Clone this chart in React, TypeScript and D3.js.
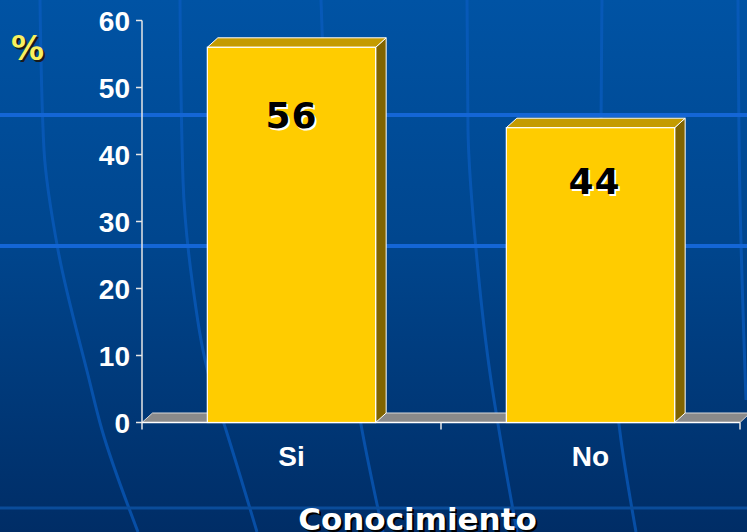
import React from "react";
import * as d3 from "d3";

const categories = ["Si", "No"];
const values = [56, 44];
const yTicks = [0, 10, 20, 30, 40, 50, 60];
const yAxisTitle = "%";
const xAxisTitle = "Conocimiento";

// decorative globe meridians (background only)
const meridians: [number, number][][] = [
  [[40, 0], [44, 150], [58, 250], [88, 375], [102, 430], [138, 532]],
  [[180, 0], [183, 180], [192, 280], [210, 380], [226, 430], [257, 532]],
  [[321, 0], [330, 180], [346, 330], [362, 430], [383, 532]],
  [[467, 0], [468, 130], [477, 260], [491, 380], [499, 430], [517, 532]],
  [[602, 0], [601, 130], [607, 280], [615, 390], [621, 440], [636, 532]],
  [[738, 0], [740, 200], [746, 400]],
];
const parallels = [115, 246, 508];

const W = 747;
const H = 532;

export default function App() {
  const y = d3.scaleLinear().domain([0, 60]).range([422.5, 20.5]);
  const x = d3.scaleBand<string>().domain(categories).range([142, 740]).paddingInner(0).paddingOuter(0);
  const barW = x.bandwidth() * 0.563;
  const dx = 10.5;
  const dy = -9.5;
  const line = d3.line<[number, number]>().curve(d3.curveMonotoneY);
  const x0 = 142;
  const y0 = y(0);
  const font = "'Liberation Sans', Arial, sans-serif";
  const font2 = "'DejaVu Sans', Verdana, sans-serif";

  return (
    <svg width={W} height={H} style={{ position: "absolute", left: 0, top: 0 }}>
      <defs>
        <linearGradient id="bg" x1="0" y1="0" x2="0" y2="1">
          <stop offset="0" stopColor="#0053a4" />
          <stop offset="0.45" stopColor="#00468e" />
          <stop offset="1" stopColor="#002d66" />
        </linearGradient>
      </defs>
      <rect x={0} y={0} width={W} height={H} fill="url(#bg)" />
      {meridians.map((m, i) => (
        <path key={i} d={line(m) || ""} fill="none" stroke="#0a5cc0" strokeOpacity={0.7} strokeWidth={3} />
      ))}
      {parallels.map((p, i) => (
        <line key={i} x1={0} x2={W} y1={p} y2={p} stroke={i === 2 ? "#0a4c9a" : "#1466d6"} strokeWidth={i === 2 ? 3 : 4} />
      ))}

      {/* floor */}
      <polygon
        points={`${x0},${y0} ${x0 + dx},${y0 + dy} ${750},${y0 + dy} ${740},${y0}`}
        fill="#8a8a8a"
        stroke="#d8d8d8"
        strokeWidth={1}
      />
      {/* y axis */}
      <line x1={x0} x2={x0} y1={y(60)} y2={y0} stroke="#e6e6e6" strokeWidth={1.5} />
      {yTicks.map((t) => (
        <g key={t}>
          <line x1={x0 - 6} x2={x0} y1={y(t)} y2={y(t)} stroke="#e6e6e6" strokeWidth={1.5} />
          <text x={130} y={y(t) + 10} textAnchor="end" fill="#ffffff" fontFamily={font} fontWeight="bold" fontSize={28}>
            {t}
          </text>
        </g>
      ))}
      {/* x axis */}
      <line x1={x0} x2={740} y1={y0} y2={y0} stroke="#ffffff" strokeWidth={1.5} />
      {[142, ...categories.map((c) => (x(c) as number) + x.bandwidth())].map((tx, i) => (
        <line key={i} x1={tx} x2={tx} y1={y0} y2={y0 + 7} stroke="#e6e6e6" strokeWidth={1.5} />
      ))}

      {/* bars */}
      {categories.map((c, i) => {
        const cx = (x(c) as number) + x.bandwidth() / 2;
        const bx0 = cx - barW / 2;
        const bx1 = cx + barW / 2;
        const yt = y(values[i]);
        return (
          <g key={c}>
            <polygon
              points={`${bx1},${yt} ${bx1 + dx},${yt + dy} ${bx1 + dx},${y0 + dy} ${bx1},${y0}`}
              fill="#806400"
              stroke="#ffffff"
              strokeWidth={1}
              strokeLinejoin="round"
            />
            <polygon
              points={`${bx0},${yt} ${bx0 + dx},${yt + dy} ${bx1 + dx},${yt + dy} ${bx1},${yt}`}
              fill="#c49b00"
              stroke="#ffffff"
              strokeWidth={1}
              strokeLinejoin="round"
            />
            <rect x={bx0} y={yt} width={barW} height={y0 - yt} fill="#ffcc00" stroke="#ffffff" strokeWidth={1.2} />
            <text
              x={cx + (i === 1 ? 4 : 0) + 2}
              y={y(values[i] * 0.82) + 13 + 2}
              textAnchor="middle"
              fill="#ffffff"
              fontFamily={font2}
              fontWeight="bold"
              fontSize={36}
              letterSpacing={1}
            >
              {values[i]}
            </text>
            <text
              x={cx + (i === 1 ? 4 : 0)}
              y={y(values[i] * 0.82) + 13}
              textAnchor="middle"
              fill="#000000"
              fontFamily={font2}
              fontWeight="bold"
              fontSize={36}
              letterSpacing={1}
            >
              {values[i]}
            </text>
            <text x={cx} y={466} textAnchor="middle" fill="#ffffff" fontFamily={font} fontWeight="bold" fontSize={28}>
              {c}
            </text>
          </g>
        );
      })}

      {/* y axis title */}
      <text x={13} y={62} fill="#1a1a1a" fontFamily={font2} fontWeight="bold" fontSize={33}>
        {yAxisTitle}
      </text>
      <text x={11} y={60} fill="#f8f060" fontFamily={font2} fontWeight="bold" fontSize={33}>
        {yAxisTitle}
      </text>
      {/* x axis title */}
      <text x={419.5} y={532} textAnchor="middle" fill="#000000" fontFamily={font2} fontWeight="bold" fontSize={31}>
        {xAxisTitle}
      </text>
      <text x={417.5} y={530} textAnchor="middle" fill="#ffffff" fontFamily={font2} fontWeight="bold" fontSize={31}>
        {xAxisTitle}
      </text>
    </svg>
  );
}
